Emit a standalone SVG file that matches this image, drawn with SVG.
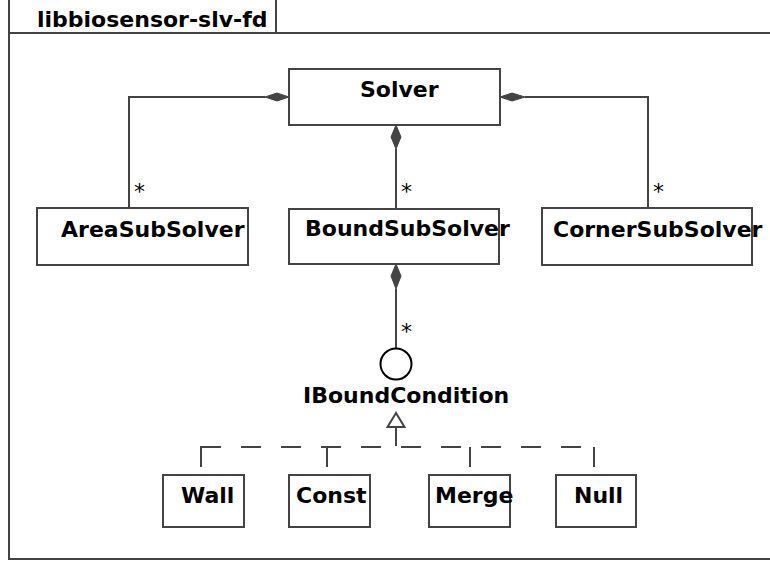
<svg xmlns="http://www.w3.org/2000/svg" width="770" height="561" viewBox="0 0 770 561">
<style>
.ln{fill:none;stroke:#444;stroke-width:2}
.box{fill:#fff;stroke:#444;stroke-width:2}
.t{font-family:"DejaVu Sans",sans-serif;font-weight:bold;font-size:22px;fill:#000}
.m{font-family:"DejaVu Sans",sans-serif;font-size:22px;fill:#000}
.dia{fill:#444;stroke:#444;stroke-width:1}
.dash{fill:none;stroke:#444;stroke-width:2;stroke-dasharray:20 20}
</style>
<rect width="770" height="561" fill="#fff"/>
<g id="frame">
<path class="ln" d="M9,0 V559 H770 M9,33 H770 M276,0 V33"/>
<text class="t" x="37" y="27">libbiosensor-slv-fd</text>
</g>
<g id="connectors">
<path class="ln" d="M265,97 H129 V208"/>
<polygon class="dia" points="289,97 277,93 265,97 277,101"/>
<text class="m" x="134" y="199">*</text>
<path class="ln" d="M525,97 H648 V208"/>
<polygon class="dia" points="500,97 512,93 525,97 512,101"/>
<text class="m" x="653" y="199">*</text>
<path class="ln" d="M396,149 V209"/>
<polygon class="dia" points="396,125 391,137 396,149 401,137"/>
<text class="m" x="401" y="199">*</text>
<path class="ln" d="M396,289 V348"/>
<polygon class="dia" points="396,264 391,276 396,289 401,276"/>
<text class="m" x="401" y="339">*</text>
<path class="ln" d="M396,427 V446"/>
<polygon class="ln" points="396,413 387.5,427 404.5,427"/>
<path class="dash" d="M201,447 H594"/>
<path class="ln" d="M201,446 V467 M327,447 V467 M470,447 V467 M594,447 V467"/>
</g>
<g id="Solver">
<rect class="box" x="289" y="69" width="211" height="56"/>
<text class="t" x="360" y="97">Solver</text>
</g>
<g id="AreaSubSolver">
<rect class="box" x="37" y="208" width="211" height="57"/>
<text class="t" x="61" y="237">AreaSubSolver</text>
</g>
<g id="BoundSubSolver">
<rect class="box" x="289" y="209" width="210" height="55"/>
<text class="t" x="305" y="236">BoundSubSolver</text>
</g>
<g id="CornerSubSolver">
<rect class="box" x="542" y="208" width="210" height="57"/>
<text class="t" x="553" y="237">CornerSubSolver</text>
</g>
<g id="IBoundCondition">
<circle cx="396" cy="364" r="15.5" fill="#fff" stroke="#000" stroke-width="2"/>
<text class="t" x="303" y="403">IBoundCondition</text>
</g>
<g id="Wall">
<rect class="box" x="163" y="475" width="81" height="52"/>
<text class="t" x="181" y="503">Wall</text>
</g>
<g id="Const">
<rect class="box" x="289" y="475" width="81" height="52"/>
<text class="t" x="296" y="503">Const</text>
</g>
<g id="Merge">
<rect class="box" x="429" y="475" width="81" height="52"/>
<text class="t" x="435" y="503">Merge</text>
</g>
<g id="Null">
<rect class="box" x="556" y="475" width="80" height="52"/>
<text class="t" x="574" y="503">Null</text>
</g>
</svg>
